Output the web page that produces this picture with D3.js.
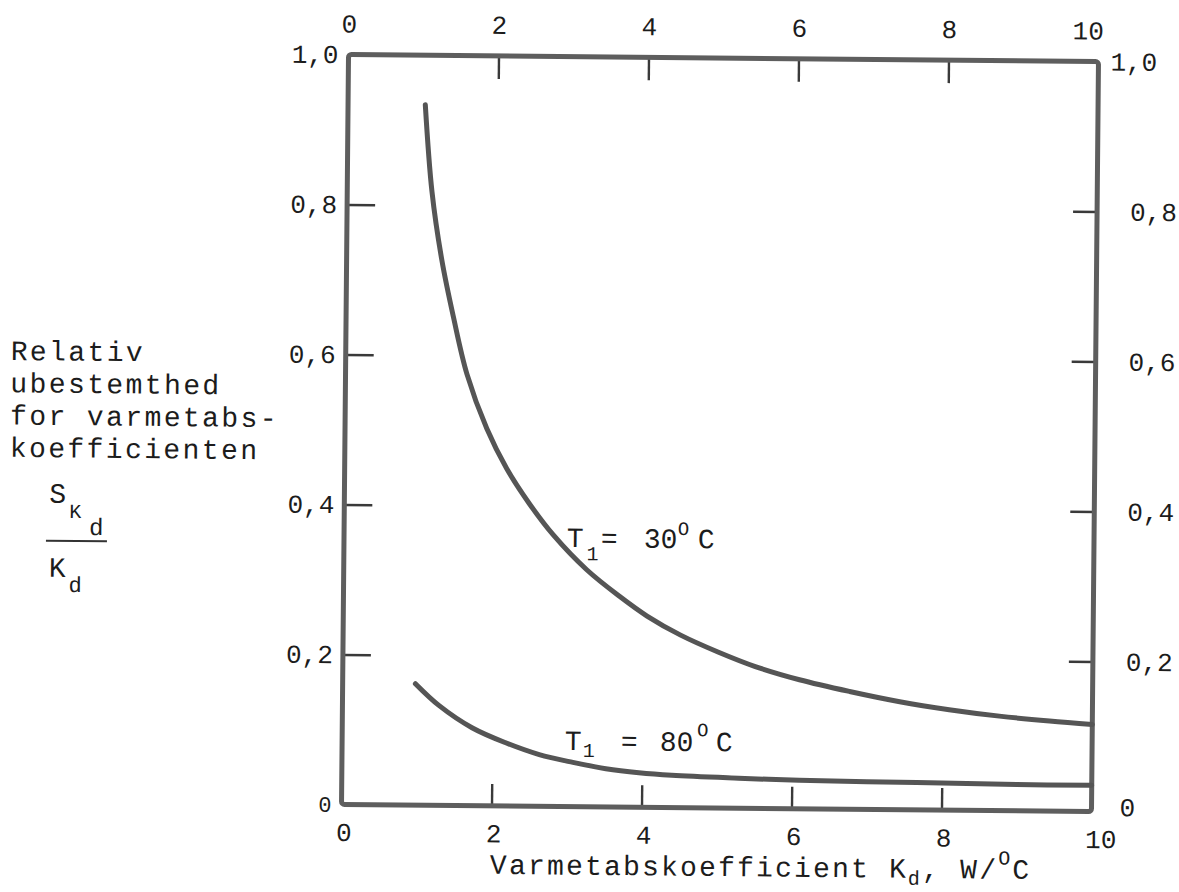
<!DOCTYPE html>
<meta charset="utf-8">
<html>
<head>
  <title>Relativ ubestemthed for varmetabskoefficienten</title>
  <script src="https://cdn.jsdelivr.net/npm/d3@7"></script>
  <style>
    body { margin: 0; background: #fff; }
    .typewriter { font-family: "Courier New", "Liberation Mono", monospace; fill: #1c1c1c; }
    .digits { font-family: "Liberation Mono", "DejaVu Sans Mono", monospace; fill: #1c1c1c; }
  </style>
</head>
<body>
  <svg id="svg" width="1179" height="892"></svg>

  <script>
    // ticks on both axes
    var kTicks = [0, 2, 4, 6, 8, 10];
    var vTicks = [0, 0.2, 0.4, 0.6, 0.8, 1.0];

    // T1 = 30 C curve
    var k30 = [1.03, 1.13, 1.27, 1.43, 1.62, 1.89, 2.16, 2.47, 2.79, 3.24, 3.68, 4.05, 4.5, 5.0, 5.5, 6.09, 6.76, 7.43, 8.09, 8.76, 9.43, 10];
    var v30 = [0.934, 0.818, 0.727, 0.652, 0.575, 0.503, 0.450, 0.403, 0.362, 0.316, 0.281, 0.255, 0.230, 0.208, 0.189, 0.172, 0.157, 0.144, 0.134, 0.126, 0.120, 0.116];

    // T1 = 80 C curve
    var k80 = [0.97, 1.29, 1.73, 2.19, 2.63, 3.08, 3.52, 3.96, 4.40, 5.29, 6.1, 7, 8, 9, 10];
    var v80 = [0.162, 0.133, 0.104, 0.084, 0.069, 0.059, 0.051, 0.046, 0.043, 0.040, 0.038, 0.037, 0.036, 0.035, 0.035];

    // where the curve labels sit (data units)
    var labelK = [2.97, 2.97];
    var labelV = [0.346, 0.0755];
    var labelTemp = ["30", "80"];

    var svg = d3.select("#svg");

    // the scanned original is turned a little, so the whole drawing is too
    var chart = svg.append("g").attr("transform", "rotate(0.535, 720, 433)");

    var x = d3.scaleLinear().domain([0, 10]).range([345, 1095]);
    var y = d3.scaleLinear().domain([0, 1]).range([808, 58]);

    var fmt = function (d) {
      return d === 0 ? "0" : d3.format(".1f")(d).replace(".", ",");
    };

    function styleAxis(g, size) {
      g.select(".domain").remove();
      g.attr("font-family", null).attr("font-size", null);
      g.selectAll(".tick line")
        .attr("stroke", "#3a3a3a")
        .attr("stroke-width", 2.4)
        .filter(function (d) { return d === 0 || d === 10 || d === 1; })
        .remove();
      g.selectAll(".tick text")
        .attr("class", "digits")
        .attr("font-size", size)
        .attr("fill", "#1c1c1c");
    }

    // bottom axis
    var gb = chart.append("g")
      .attr("transform", "translate(0," + y(0) + ")")
      .call(d3.axisBottom(x).tickValues(kTicks).tickSize(-22).tickPadding(18));
    styleAxis(gb, 26);
    gb.selectAll(".tick text").attr("dx", function (d) { return d === 10 ? 9 : 2; });

    // top axis
    var gt = chart.append("g")
      .attr("transform", "translate(0," + y(1) + ")")
      .call(d3.axisTop(x).tickValues(kTicks).tickSize(-23).tickPadding(22));
    styleAxis(gt, 26);
    gt.selectAll(".tick text").attr("dx", function (d) { return d === 10 ? -11 : 0; });

    // left axis
    var gl = chart.append("g")
      .attr("transform", "translate(" + x(0) + ",0)")
      .call(d3.axisLeft(y).tickValues(vTicks).tickFormat(fmt).tickSize(-28).tickPadding(10));
    styleAxis(gl, 26);
    gl.selectAll(".tick text")
      .attr("font-size", function (d) { return d === 0 ? 22 : 26; });

    // right axis
    var gr = chart.append("g")
      .attr("transform", "translate(" + x(10) + ",0)")
      .call(d3.axisRight(y).tickValues(vTicks).tickFormat(fmt).tickSize(-24).tickPadding(33));
    styleAxis(gr, 26);
    gr.selectAll(".tick text")
      .attr("x", function (d) { return d === 1 ? 12 : (d === 0 ? 28 : 33); })
      .attr("dy", function (d) { return d === 0 ? "0.15em" : "0.32em"; });

    // frame
    chart.append("rect")
      .attr("x", x(0))
      .attr("y", y(1))
      .attr("width", x(10) - x(0))
      .attr("height", y(0) - y(1))
      .attr("rx", 3)
      .attr("fill", "none")
      .attr("stroke", "#5e5e5e")
      .attr("stroke-width", 5);

    // curves
    var line = d3.line()
      .x(function (d) { return x(d[0]); })
      .y(function (d) { return y(d[1]); })
      .curve(d3.curveCatmullRom.alpha(0.5));

    [d3.zip(k30, v30), d3.zip(k80, v80)].forEach(function (pts) {
      chart.append("path")
        .datum(pts)
        .attr("d", line)
        .attr("fill", "none")
        .attr("stroke", "#555")
        .attr("stroke-width", 5)
        .attr("stroke-linecap", "round");
    });

    // curve labels: T1 = .. oC, pieces placed by hand like the typewriter did
    var pieces = [
      [["T", 0, 0, 28], ["1", 20, 13, 20], ["=", 34, 0, 28], [labelTemp[0], 77, 0, 28], ["O", 111, -13, 19], ["C", 131, 0, 28]],
      [["T", 0, 0, 28], ["1", 18, 7, 20], ["=", 56, 0, 28], [labelTemp[1], 95, 0, 28], ["O", 132, -15, 19], ["C", 151, 0, 28]]
    ];
    pieces.forEach(function (p, i) {
      var lg = chart.append("g")
        .attr("transform", "translate(" + x(labelK[i]) + "," + y(labelV[i]) + ")");
      p.forEach(function (q) {
        lg.append("text")
          .attr("class", "digits")
          .attr("x", q[1])
          .attr("y", q[2])
          .attr("font-size", q[3])
          .text(q[0]);
      });
    });

    // x axis title
    var xt = chart.append("text")
      .attr("class", "typewriter")
      .attr("x", 494)
      .attr("y", 876)
      .attr("font-size", 28)
      .attr("letter-spacing", 2.2);
    xt.append("tspan").text("Varmetabskoefficient K");
    xt.append("tspan").attr("dy", 7).attr("font-size", 20).text("d");
    xt.append("tspan").attr("dy", -7).text(", W/");
    xt.append("tspan").attr("dy", -14).attr("font-size", 20).text("O");
    xt.append("tspan").attr("dy", 14).text("C");

    // y axis title, left block
    var yLines = ["Relativ", "ubestemthed", "for varmetabs-", "koefficienten"];
    chart.append("g").selectAll("text")
      .data(yLines)
      .enter()
      .append("text")
      .attr("class", "typewriter")
      .attr("x", 10)
      .attr("y", function (d, i) { return 366.6 + i * 32.3; })
      .attr("font-size", 28)
      .attr("letter-spacing", 2.4)
      .text(function (d) { return d; });

    // S_Kd / K_d
    var fr = chart.append("g").attr("class", "typewriter");
    fr.append("text").attr("x", 50).attr("y", 509).attr("font-size", 28).text("S");
    fr.append("text").attr("x", 70).attr("y", 524).attr("font-size", 20).text("K");
    fr.append("text").attr("x", 90).attr("y", 541).attr("font-size", 24).text("d");
    fr.append("line")
      .attr("x1", 47).attr("x2", 108)
      .attr("y1", 547).attr("y2", 547)
      .attr("stroke", "#333")
      .attr("stroke-width", 2);
    fr.append("text").attr("x", 50).attr("y", 583).attr("font-size", 28).text("K");
    fr.append("text").attr("x", 70).attr("y", 598).attr("font-size", 22).text("d");
  </script>
</body>
</html>
